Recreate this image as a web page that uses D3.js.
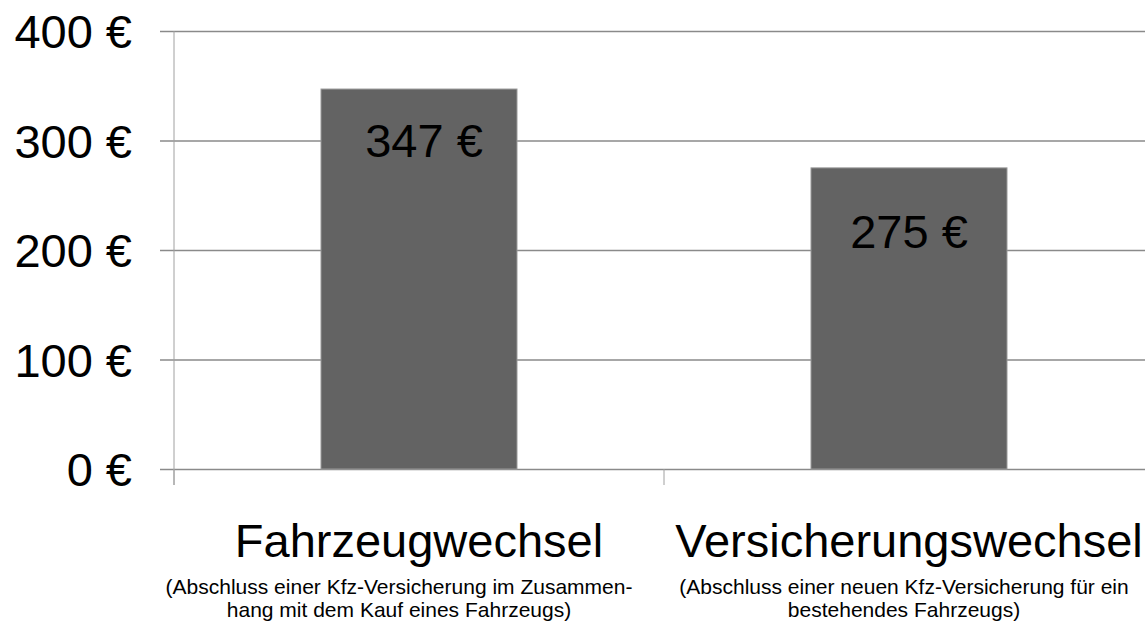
<!DOCTYPE html>
<html lang="de">
	<head>
		<meta charset="utf-8">
		<title>Kfz-Versicherung: Fahrzeugwechsel vs. Versicherungswechsel</title>
		<script type="text/javascript" src="https://d3js.org/d3.v7.min.js"></script>
		<style type="text/css">
			body{
				margin: 0;
				background: #fff;
			}
			svg text{
				font-family: "Liberation Sans", Arial, sans-serif;
				fill: #000;
			}
		</style>
	</head>
	<body>
		<script type="text/javascript">

			//Data
			var categories = ["Fahrzeugwechsel", "Versicherungswechsel"];
			var subtitles = [
				["(Abschluss einer Kfz-Versicherung im Zusammen-", "hang mit dem Kauf eines Fahrzeugs)"],
				["(Abschluss einer neuen Kfz-Versicherung für ein", "bestehendes Fahrzeugs)"]
			];
			var values = [347, 275];
			var yTicks = [0, 100, 200, 300, 400];

			//Size
			var w = 1145;
			var h = 624;
			var margin = {top: 31, right: -9, bottom: 155, left: 174};

			//Scales
			var xScale = d3.scaleBand()
							.domain(categories)
							.range([margin.left, w - margin.right])
							.paddingInner(0.6)
							.paddingOuter(0.3);

			var yScale = d3.scaleLinear()
							.domain([0, 400])
							.range([h - margin.bottom, margin.top]);

			var fmt = function(d) { return d + " €"; };

			//SVG
			var svg = d3.select("body")
						.append("svg")
						.attr("width", w)
						.attr("height", h);

			//Gridlines + y labels
			var yAxis = d3.axisLeft(yScale)
							.tickValues(yTicks)
							.tickSize(-(w - margin.left))
							.tickSizeOuter(0)
							.tickPadding(42)
							.tickFormat(fmt);

			var gy = svg.append("g")
				.attr("transform", "translate(" + margin.left + ",0)")
				.call(yAxis);
			gy.select(".domain").remove();
			gy.selectAll(".tick line")
				.attr("x1", -14)
				.attr("x2", w - margin.left)
				.attr("stroke", "#8a8a8a")
				.attr("stroke-width", 1.3);
			gy.selectAll(".tick text")
				.attr("font-size", "47px")
				.attr("dy", "0.36em");

			//Vertical axis line
			svg.append("line")
				.attr("x1", margin.left).attr("x2", margin.left)
				.attr("y1", yScale(400)).attr("y2", yScale(0) + 16)
				.attr("stroke", "#a0a0a0")
				.attr("stroke-width", 1);

			//Category separator ticks
			var sepX = categories.map(function(c) { return xScale(c) - xScale.step() * 0.3; });
			svg.selectAll("line.sep")
				.data(sepX)
				.enter()
				.append("line")
				.attr("class", "sep")
				.attr("x1", function(d) { return d; })
				.attr("x2", function(d) { return d; })
				.attr("y1", yScale(0))
				.attr("y2", yScale(0) + 16)
				.attr("stroke", "#a0a0a0")
				.attr("stroke-width", 1);

			//Bars
			svg.selectAll("rect.bar")
				.data(values)
				.enter()
				.append("rect")
				.attr("class", "bar")
				.attr("x", function(d, i) { return xScale(categories[i]); })
				.attr("y", function(d) { return yScale(d); })
				.attr("width", xScale.bandwidth())
				.attr("height", function(d) { return yScale(0) - yScale(d); })
				.attr("fill", "#636363")
				.attr("stroke", "#9a9a9a")
				.attr("stroke-width", 1);

			//Value labels
			var labelDy = [68, 80];
			svg.selectAll("text.val")
				.data(values)
				.enter()
				.append("text")
				.attr("class", "val")
				.attr("x", function(d, i) { return xScale(categories[i]) + xScale.bandwidth() / 2 + (i == 0 ? 5 : 0); })
				.attr("y", function(d, i) { return yScale(d) + labelDy[i]; })
				.attr("text-anchor", "middle")
				.attr("font-size", "47px")
				.text(fmt);

			//Category titles
			svg.selectAll("text.cat")
				.data(categories)
				.enter()
				.append("text")
				.attr("class", "cat")
				.attr("x", function(d) { return xScale(d) + xScale.bandwidth() / 2; })
				.attr("y", 557)
				.attr("text-anchor", "middle")
				.attr("font-size", "47px")
				.text(function(d) { return d; });

			//Subtitles
			var subNudge = [-20, -5];
			var sub = svg.selectAll("text.sub")
				.data(categories)
				.enter()
				.append("text")
				.attr("class", "sub")
				.attr("text-anchor", "middle")
				.attr("font-size", "21px");
			sub.selectAll("tspan")
				.data(function(d, i) { return subtitles[i].map(function(s) { return {s: s, c: d, i: i}; }); })
				.enter()
				.append("tspan")
				.attr("x", function(d) { return xScale(d.c) + xScale.bandwidth() / 2 + subNudge[d.i]; })
				.attr("y", function(d, j) { return 594 + j * 23; })
				.text(function(d) { return d.s; });

		</script>
	</body>
</html>
